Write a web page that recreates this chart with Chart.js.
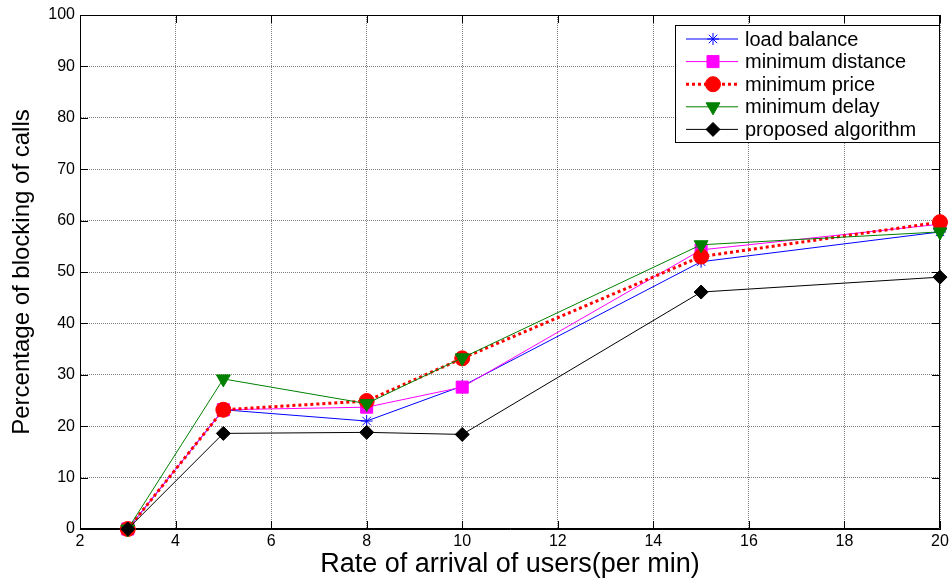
<!DOCTYPE html>
<html>
<head>
<meta charset="utf-8">
<script src="https://cdn.jsdelivr.net/npm/chart.js@4.4.1/dist/chart.umd.min.js"></script>
<style>
  html, body { margin: 0; padding: 0; background: #fff; }
</style>
</head>
<body>
<canvas id="line-chart" width="952" height="581"></canvas>
<script>
const rates = [3, 5, 8, 10, 15, 20];
const loadBalance = [0, 23.2, 21.0, 27.8, 52.0, 57.8];
const minDistance = [0, 23.2, 23.7, 27.6, 54.3, 59.3];
const minPrice = [0, 23.2, 24.9, 33.2, 53.0, 59.7];
const minDelay = [0, 29.2, 24.4, 33.3, 55.3, 57.8];
const proposed = [0, 18.6, 18.8, 18.4, 46.1, 49.0];
const xTicks = [2, 4, 6, 8, 10, 12, 14, 16, 18, 20];
const yTicks = [0, 10, 20, 30, 40, 50, 60, 70, 80, 90, 100];

const FONT = "'Liberation Sans', Arial, Helvetica, sans-serif";

function toPoints(values) {
    return rates.map(function (r, i) { return { x: r, y: values[i] }; });
}

function series(label, values, color, style, extra) {
    return Object.assign({
        label: label,
        data: toPoints(values),
        borderColor: color,
        backgroundColor: color,
        pointBackgroundColor: color,
        pointBorderColor: color,
        borderWidth: 1,
        pointBorderWidth: 1,
        pointStyle: style,
        tension: 0,
        clip: false
    }, extra);
}

const datasets = [
    series('load balance', loadBalance, '#0000ff', 'star', { pointRadius: 6, order: 5 }),
    series('minimum distance', minDistance, '#ff00ff', 'rect', { pointRadius: 8.5, order: 4 }),
    series('minimum price', minPrice, '#ff0000', 'circle',
        { pointRadius: 7.5, borderWidth: 3, borderDash: [3, 3], order: 3 }),
    series('minimum delay', minDelay, '#008000', 'triangle',
        { pointRadius: 8, pointRotation: 180, order: 2 }),
    series('proposed algorithm', proposed, '#000000', 'rectRot', { pointRadius: 7, order: 1 })
];

// matlab style box with inward ticks
const boxPlugin = {
    id: 'box',
    beforeDatasetsDraw(chart) {
        const ctx = chart.ctx, a = chart.chartArea;
        const xs = chart.scales.x, ys = chart.scales.y;
        ctx.save();
        ctx.strokeStyle = '#000';
        ctx.lineWidth = 1;
        ctx.beginPath();
        ctx.rect(a.left + 0.5, a.top + 0.5, a.right - a.left - 1, a.bottom - a.top - 1);
        xTicks.forEach(function (t) {
            const px = Math.round(xs.getPixelForValue(t)) + 0.5;
            ctx.moveTo(px, a.bottom); ctx.lineTo(px, a.bottom - 8);
            ctx.moveTo(px, a.top); ctx.lineTo(px, a.top + 8);
        });
        yTicks.forEach(function (t) {
            const py = Math.round(ys.getPixelForValue(t)) + 0.5;
            ctx.moveTo(a.left, py); ctx.lineTo(a.left + 8, py);
            ctx.moveTo(a.right, py); ctx.lineTo(a.right - 8, py);
        });
        ctx.stroke();
        ctx.restore();
    }
};

// legend box in the top right corner, line + marker like matlab
const legendPlugin = {
    id: 'boxLegend',
    afterDraw(chart) {
        const ctx = chart.ctx;
        const x0 = 675, y0 = 25, w = 264, h = 117;
        ctx.save();
        ctx.fillStyle = '#fff';
        ctx.fillRect(x0, y0, w, h);
        ctx.strokeStyle = '#000';
        ctx.lineWidth = 1;
        ctx.strokeRect(x0 + 0.5, y0 + 0.5, w, h);
        datasets.forEach(function (ds, i) {
            const y = y0 + 14 + i * 22.6;
            ctx.save();
            ctx.strokeStyle = ds.borderColor;
            ctx.lineWidth = ds.borderWidth;
            ctx.setLineDash(ds.borderDash || []);
            ctx.beginPath();
            ctx.moveTo(686, y);
            ctx.lineTo(738, y);
            ctx.stroke();
            ctx.restore();
            ctx.save();
            ctx.fillStyle = ds.pointBackgroundColor;
            ctx.strokeStyle = ds.pointBorderColor;
            ctx.lineWidth = ds.pointBorderWidth;
            Chart.helpers.drawPoint(ctx, {
                pointStyle: ds.pointStyle,
                radius: ds.pointRadius,
                rotation: ds.pointRotation || 0,
                borderWidth: ds.pointBorderWidth
            }, 713, y);
            ctx.restore();
            ctx.fillStyle = '#000';
            ctx.font = '20px ' + FONT;
            ctx.textBaseline = 'middle';
            ctx.textAlign = 'left';
            ctx.fillText(ds.label, 745, y + 1);
        });
        ctx.restore();
    }
};

function renderChart() {
    return new Chart(document.getElementById('line-chart'), {
        type: 'line',
        data: { datasets: datasets },
        options: {
            responsive: false,
            animation: false,
            layout: { padding: { top: 15, right: 12, left: 0, bottom: 0 } },
            plugins: {
                legend: { display: false },
                tooltip: { enabled: false }
            },
            scales: {
                x: {
                    type: 'linear',
                    min: 2,
                    max: 20,
                    afterBuildTicks: function (scale) {
                        scale.ticks = xTicks.map(function (v) { return { value: v }; });
                    },
                    afterFit: function (scale) { scale.height = 52; },
                    ticks: { color: '#000', font: { family: FONT, size: 16 }, padding: 3, maxRotation: 0 },
                    grid: { color: 'rgba(0,0,0,0.5)', lineWidth: 1, drawTicks: false },
                    border: { display: true, color: '#000', width: 1, dash: [1, 1] },
                    title: {
                        display: true,
                        text: 'Rate of arrival of users(per min)',
                        color: '#000',
                        font: { family: FONT, size: 27 },
                        padding: { top: 0, bottom: 0 }
                    }
                },
                y: {
                    min: 0,
                    max: 100,
                    afterBuildTicks: function (scale) {
                        scale.ticks = yTicks.map(function (v) { return { value: v }; });
                    },
                    afterFit: function (scale) { scale.width = 80; },
                    ticks: { color: '#000', font: { family: FONT, size: 16 }, padding: 5 },
                    grid: { color: 'rgba(0,0,0,0.5)', lineWidth: 1, drawTicks: false },
                    border: { display: true, color: '#000', width: 1, dash: [1, 1] },
                    title: {
                        display: true,
                        text: 'Percentage of blocking of calls',
                        color: '#000',
                        font: { family: FONT, size: 24 },
                        padding: { top: 8, bottom: 0 }
                    }
                }
            }
        },
        plugins: [boxPlugin, legendPlugin]
    });
}

let chart = renderChart();
</script>
</body>
</html>
